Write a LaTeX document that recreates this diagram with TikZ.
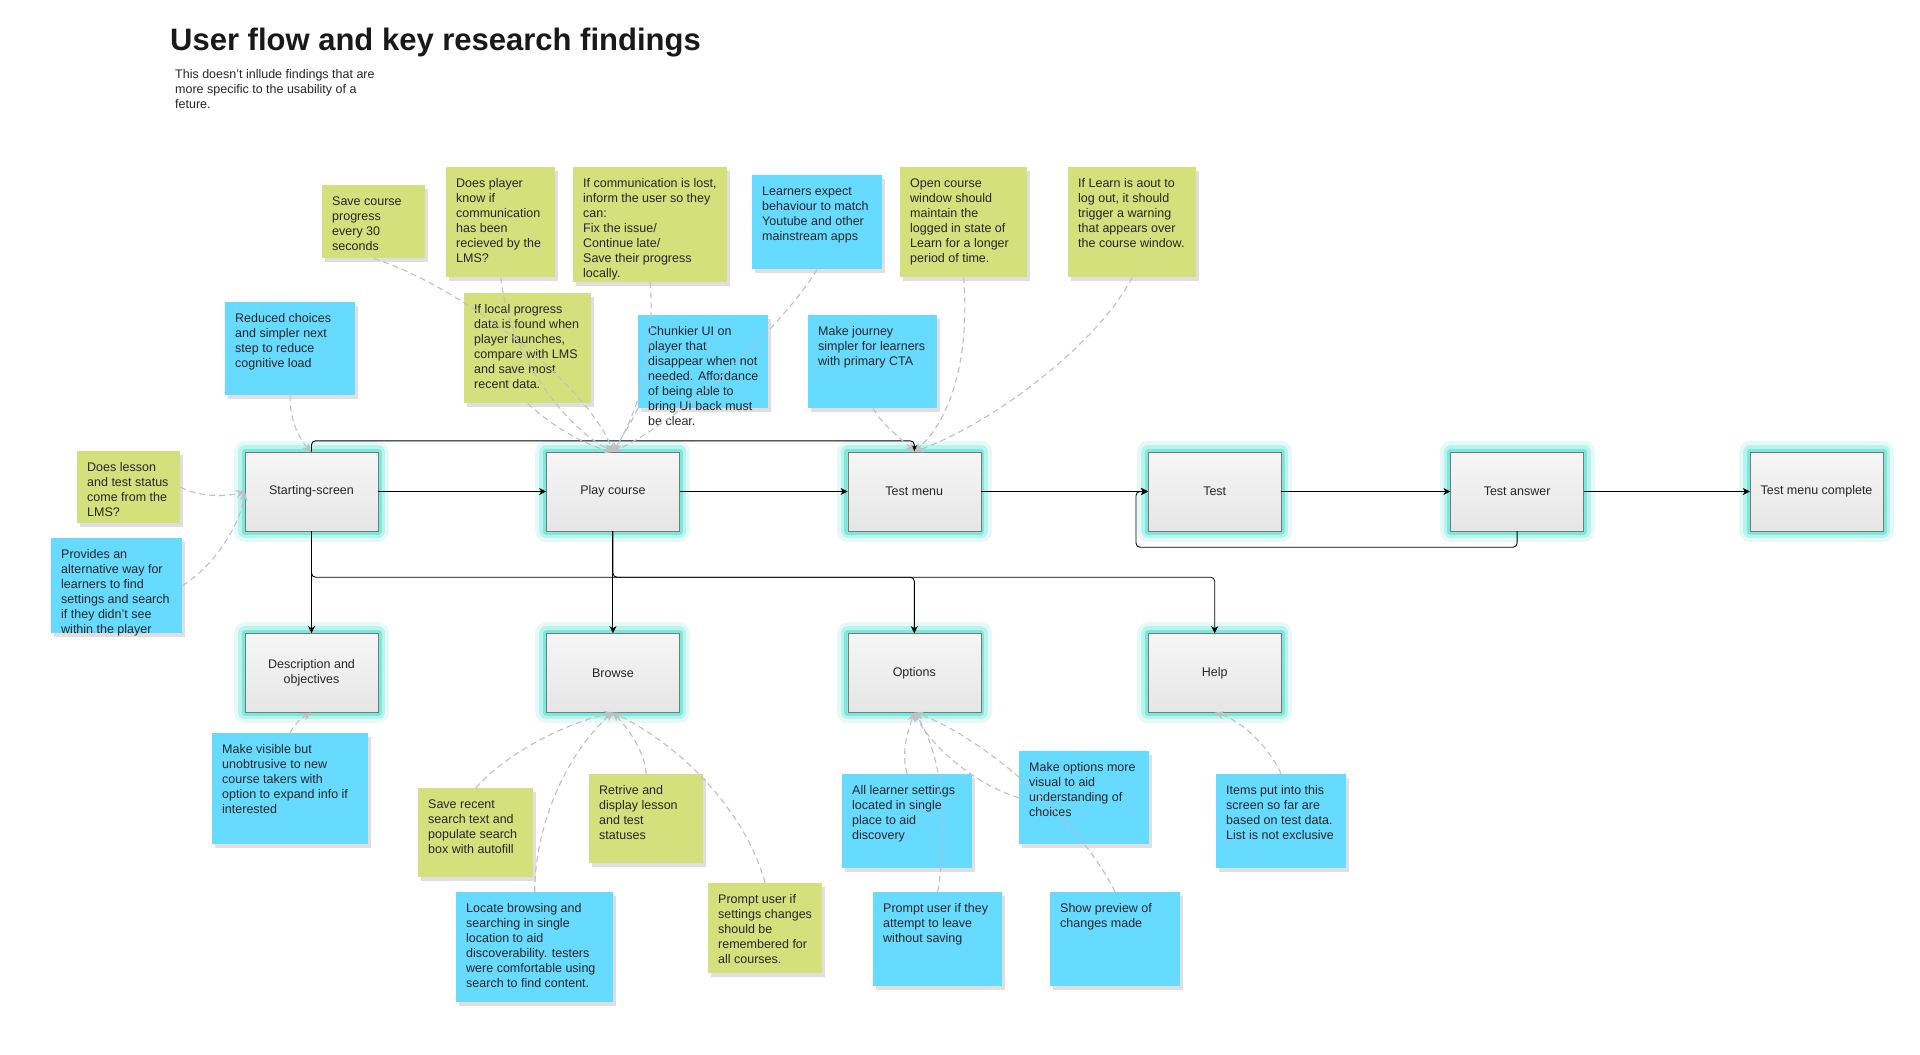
\documentclass[tikz,border=0pt]{standalone}
\usepackage{fontspec}
\setmainfont{Liberation Sans}
\usepackage{xcolor}
\usepackage{tikz}
\usetikzlibrary{arrows.meta, positioning, shadows}

\definecolor{notegreen}{RGB}{211,224,124}
\definecolor{noteblue}{RGB}{102,218,255}
\definecolor{glowteal}{RGB}{72,226,206}
\definecolor{linkgray}{RGB}{192,192,192}
\definecolor{inkdark}{RGB}{38,38,38}

\newcommand{\notefont}{\fontsize{12.5}{15}\selectfont}
% sticky note body: outer width, outer height, lines
\newcommand{\nbox}[3]{\parbox[c][\dimexpr#2pt-20pt\relax][t]{\dimexpr#1pt-20pt\relax}{\begin{tabular}[t]{@{}l@{}}#3\end{tabular}}}

\begin{document}
\begin{tikzpicture}[x=1pt, y=-1pt,
  every node/.style={font=\notefont, text=inkdark},
  screen/.style={rectangle, draw=gray!95!black, minimum width=133, minimum height=79,
    top color=gray!7, bottom color=gray!20, align=center, inner sep=2pt,
    preaction={draw=glowteal, opacity=0.14, line width=22pt, line join=round},
    preaction={draw=glowteal, opacity=0.28, line width=14pt, line join=round},
    preaction={draw=glowteal, opacity=0.55, line width=7pt, line join=round}},
  note/.style={rectangle, anchor=north west, inner xsep=10pt, inner ysep=10pt,
    drop shadow={shadow xshift=3pt, shadow yshift=-4pt, opacity=0.25}},
  gnote/.style={note, fill=notegreen},
  bnote/.style={note, fill=noteblue},
  flow/.style={draw=black, line width=0.9pt, rounded corners=4pt,
    -{Stealth[length=7pt, width=7pt, inset=2pt]}},
  link/.style={draw=linkgray, line width=1.1pt, dash pattern=on 6pt off 4pt,
    -{Stealth[length=9pt, width=8pt, inset=3pt]}}]

\fill[white] (0,0) rectangle (1920,1055);
\useasboundingbox (0,0) rectangle (1920,1055);

% ============= heading =============
\node[anchor=base west, inner sep=0pt, text=gray!20!black,
  font=\fontsize{31}{37}\selectfont\bfseries] (title) at (170,50)
  {User flow and key research findings};
\node[anchor=north west, inner sep=0pt, align=left] (subtitle) at (175,69)
  {This doesn’t inllude findings that are\\more specific to the usability of a\\feture.};

% ============= research notes =============
% --- above the flow ---
\node[gnote] (savep) at (322,185) {\nbox{103}{73}{Save course\\progress\\every 30\\seconds}};
\node[gnote] (knowp) at (446,167) {\nbox{109}{110}{Does player\\know if\\communication\\has been\\recieved by the\\LMS?}};
\node[gnote] (lostp) at (573,167) {\nbox{154}{115}{If communication is lost,\\inform the user so they\\can:\\Fix the issue/\\Continue late/\\Save their progress\\locally.}};
\node[gnote] (localp) at (464,293) {\nbox{127}{110}{If local progress\\data is found when\\player launches,\\compare with LMS\\and save most\\recent data.}};
\node[bnote] (chunkp) at (638,315) {\nbox{130}{93}{Chunkier UI on\\player that\\disappear when not\\needed. Affordance\\of being able to\\bring UI back must\\be clear.}};
\node[bnote] (expectp) at (752,175) {\nbox{130}{94}{Learners expect\\behaviour to match\\Youtube and other\\mainstream apps}};
\node[gnote] (windowp) at (900,167) {\nbox{127}{110}{Open course\\window should\\maintain the\\logged in state of\\Learn for a longer\\period of time.}};
\node[gnote] (logoutp) at (1068,167) {\nbox{128}{110}{If Learn is aout to\\log out, it should\\trigger a warning\\that appears over\\the course window.}};
\node[bnote] (journeyp) at (808,315) {\nbox{129}{93}{Make journey\\simpler for learners\\with primary CTA}};
\node[bnote] (reducep) at (225,302) {\nbox{130}{93}{Reduced choices\\and simpler next\\step to reduce\\cognitive load}};
\node[gnote] (lessonp) at (77,451) {\nbox{103}{72}{Does lesson\\and test status\\come from the\\LMS?}};
\node[bnote] (providep) at (51,538) {\nbox{131}{95}{Provides an\\alternative way for\\learners to find\\settings and search\\if they didn't see\\within the player}};

% --- below the flow ---
\node[bnote] (visiblep) at (212,733) {\nbox{156}{111}{Make visible but\\unobtrusive to new\\course takers with\\option to expand info if\\interested}};
\node[gnote] (recentp) at (418,788) {\nbox{115}{89}{Save recent\\search text and\\populate search\\box with autofill}};
\node[bnote] (locatep) at (456,892) {\nbox{157}{110}{Locate browsing and\\searching in single\\location to aid\\discoverability. testers\\were comfortable using\\search to find content.}};
\node[gnote] (statusp) at (589,774) {\nbox{114}{89}{Retrive and\\display lesson\\and test\\statuses}};
\node[gnote] (rememberp) at (708,883) {\nbox{114}{90}{Prompt user if\\settings changes\\should be\\remembered for\\all courses.}};
\node[bnote] (settingsp) at (842,774) {\nbox{130}{94}{All learner settings\\located in single\\place to aid\\discovery}};
\node[bnote] (visualp) at (1019,751) {\nbox{130}{93}{Make options more\\visual to aid\\understanding of\\choices}};
\node[bnote] (leavep) at (873,892) {\nbox{129}{94}{Prompt user if they\\attempt to leave\\without saving}};
\node[bnote] (previewp) at (1050,892) {\nbox{130}{94}{Show preview of\\changes made}};
\node[bnote] (itemsp) at (1216,774) {\nbox{130}{94}{Items put into this\\screen so far are\\based on test data.\\List is not exclusive}};

% ============= screens =============
\node[screen] (start) at (311.5,491.5) {Starting-screen};
\node[screen, right=168pt of start] (play) {Play course};
\node[screen, right=168pt of play] (testmenu) {Test menu};
\node[screen, right=167pt of testmenu] (test) {Test};
\node[screen, right=169pt of test] (answer) {Test answer};
\node[screen, right=166pt of answer] (done) {Test menu complete};

\node[screen, below=102pt of start] (desc) {Description and\\objectives};
\node[screen, below=102pt of play] (browse) {Browse};
\node[screen, below=102pt of testmenu] (options) {Options};
\node[screen, below=102pt of test] (help) {Help};

% ============= user flow =============
\draw[flow] (start) -- (play);
\draw[flow] (play) -- (testmenu);
\draw[flow] (testmenu) -- (test);
\draw[flow] (test) -- (answer);
\draw[flow] (answer) -- (done);
\draw[flow] (start.north) -- ++(0,-11) -| (testmenu.north);
\draw[flow] (answer.south) -- ++(0,16) -| ([xshift=-12pt]test.west) -- (test.west);
\draw[flow] (start) -- (desc);
\draw[flow] (start.south) -- ++(0,46) -| (help.north);
\draw[flow] (play) -- (browse);
\draw[flow] (play.south) -- ++(0,46) -| (options.north);

% ============= notes pointing at screens =============
\draw[link] (savep.south) .. controls (470,290) and (590,390) .. (play.north);
\draw[link] (knowp.south) .. controls (510,360) and (570,430) .. (play.north);
\draw[link] (localp.south) .. controls (550,425) and (585,445) .. (play.north);
\draw[link] (lostp.south) .. controls (655,350) and (640,410) .. (play.north);
\draw[link] (chunkp.south west) .. controls (630,425) and (620,440) .. (play.north);
\draw[link] (expectp.south) .. controls (780,330) and (680,420) .. (play.north);

\draw[link] (journeyp.south) .. controls (885,428) and (905,442) .. (testmenu.north);
\draw[link] (windowp.south) .. controls (970,360) and (950,420) .. (testmenu.north);
\draw[link] (logoutp.south) .. controls (1100,340) and (1000,420) .. (testmenu.north);

\draw[link] (reducep.south) .. controls (289,420) and (300,440) .. (start.north);
\draw[link] (lessonp.east) .. controls (200,497) and (225,497) .. (start.west);
\draw[link] (providep.east) .. controls (215,565) and (240,525) .. (start.west);

\draw[link] (visiblep.north) .. controls (295,722) and (305,716) .. (desc.south);

\draw[link] (recentp.north) .. controls (505,755) and (560,725) .. (browse.south);
\draw[link] (locatep.north) .. controls (535,820) and (570,750) .. (browse.south);
\draw[link] (statusp.north) .. controls (645,750) and (625,725) .. (browse.south);
\draw[link] (rememberp.north) .. controls (745,810) and (680,745) .. (browse.south);

\draw[link] (settingsp.north) .. controls (900,750) and (910,725) .. (options.south);
\draw[link] (leavep.north) .. controls (950,820) and (940,750) .. (options.south);
\draw[link] (visualp.west) .. controls (975,785) and (930,745) .. (options.south);
\draw[link] (previewp.north) .. controls (1080,820) and (980,735) .. (options.south);

\draw[link] (itemsp.north) .. controls (1268,745) and (1240,720) .. (help.south);
\end{tikzpicture}
\end{document}
